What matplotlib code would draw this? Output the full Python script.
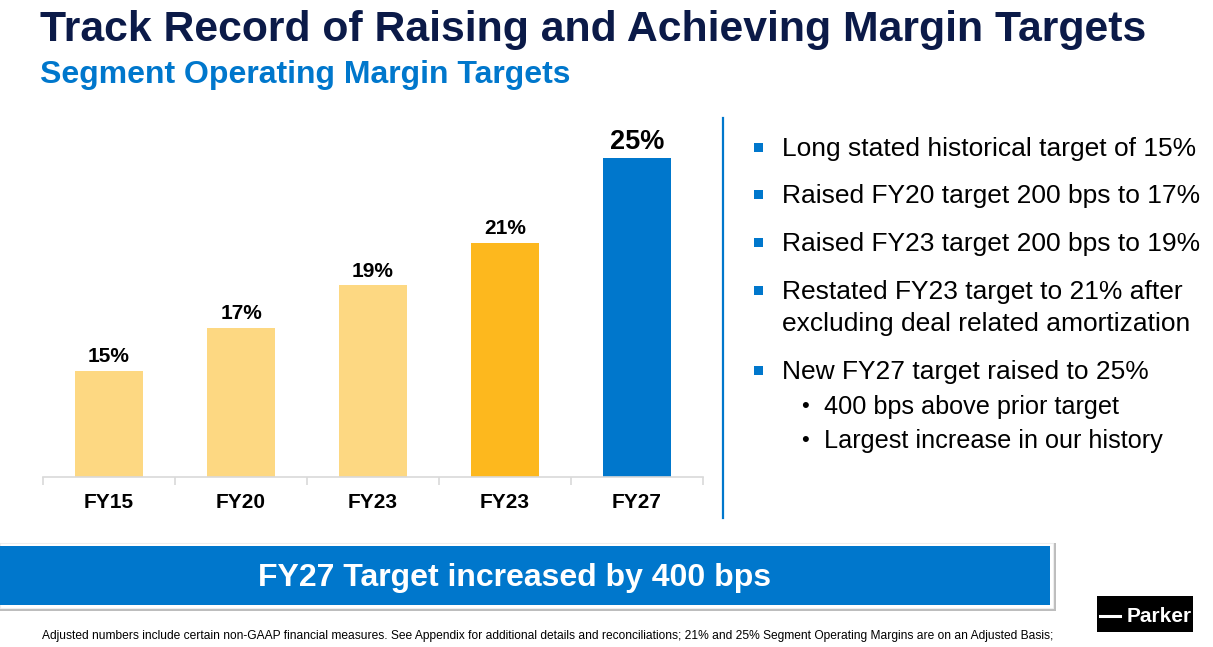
import matplotlib.pyplot as plt
from matplotlib.patches import Rectangle

W, H = 1213, 647

# chart data
categories = ["FY15", "FY20", "FY23", "FY23", "FY27"]
margins = [15, 17, 19, 21, 25]
bar_colors = ["#FDD882", "#FDD882", "#FDD882", "#FDB81E", "#0077CC"]

bullets = [
    ["Long stated historical target of 15%"],
    ["Raised FY20 target 200 bps to 17%"],
    ["Raised FY23 target 200 bps to 19%"],
    ["Restated FY23 target to 21% after", "excluding deal related amortization"],
    ["New FY27 target raised to 25%"],
]
sub_bullets = ["400 bps above prior target", "Largest increase in our history"]

navy = "#0B1A48"
blue = "#0077CC"

plt.rcParams["font.family"] = ["Liberation Sans", "DejaVu Sans"]

fig = plt.figure(figsize=(W / 100, H / 100), dpi=100)


def fx(px):
    return px / W


def fy(py):
    return 1 - py / H


# titles
fig.text(fx(40), fy(30), "Track Record of Raising and Achieving Margin Targets",
         fontsize=30.8, fontweight="bold", color=navy, va="center", ha="left")
fig.text(fx(40), fy(75), "Segment Operating Margin Targets",
         fontsize=23, fontweight="bold", color=blue, va="center", ha="left")

# bar chart
ax = fig.add_axes([fx(43), fy(477), fx(703) - fx(43), fy(118) - fy(477)])
x = range(len(categories))
ax.bar(x, [m - 10 for m in margins], bottom=10, width=0.51, color=bar_colors)
ax.set_xlim(-0.5, len(categories) - 0.5)
ax.set_ylim(10, 10 + 359 / 21.3)
for i, m in enumerate(margins):
    size = 19.5 if i == len(margins) - 1 else 15
    ax.text(i, m + 0.4, f"{m}%", ha="center", va="baseline",
            fontsize=size, fontweight="bold", color="black")
for s in ["top", "right", "left"]:
    ax.spines[s].set_visible(False)
ax.spines["bottom"].set_color("#D9D9D9")
ax.spines["bottom"].set_linewidth(1.2)
ax.set_yticks([])
ax.set_xticks([i - 0.5 for i in range(len(categories) + 1)])
ax.set_xticklabels([])
ax.tick_params(axis="x", length=6, color="#D9D9D9", width=1.2)
for i, c in enumerate(categories):
    ax.text(i, -0.07, c, transform=ax.get_xaxis_transform(), ha="center",
            va="center", fontsize=15, fontweight="bold")

# divider
fig.add_artist(plt.Line2D([fx(723), fx(723)], [fy(118), fy(518)],
                          color=blue, lw=1.6))

# bullet list
bullet_y = [147, 194, 242, 290, 370]
for y, lines in zip(bullet_y, bullets):
    fig.add_artist(Rectangle((fx(754), fy(y + 5)), fx(9), 9 / H,
                             color=blue, lw=0))
    for k, t in enumerate(lines):
        fig.text(fx(782), fy(y + 2 + 32 * k), t, fontsize=19, color="black",
                 va="center", ha="left")
for y, t in zip([405, 439], sub_bullets):
    fig.text(fx(801), fy(y + 2), "\u2022", fontsize=16, va="center", ha="left")
    fig.text(fx(824), fy(y + 2), t, fontsize=18.2, va="center", ha="left")

# banner with shadow
fig.add_artist(Rectangle((fx(0), fy(611)), fx(1056), (611 - 543) / H,
                         color="#BDBDBD", lw=0))
fig.add_artist(Rectangle((fx(0), fy(608)), fx(1053), (608 - 543) / H,
                         facecolor="white", edgecolor="#EEEEEE", lw=0.8))
fig.add_artist(Rectangle((fx(0), fy(605)), fx(1050), (605 - 546) / H,
                         color=blue, lw=0))
fig.text(fx(515), fy(578), "FY27 Target increased by 400 bps", fontsize=23,
         fontweight="bold", color="white", ha="center", va="center")

# footnote
fig.text(fx(42), fy(636),
         "Adjusted numbers include certain non-GAAP financial measures. See Appendix for "
         "additional details and reconciliations; 21% and 25% Segment Operating Margins "
         "are on an Adjusted Basis;",
         fontsize=8.65, color="black", ha="left", va="center")

# logo
fig.add_artist(Rectangle((fx(1097), fy(632)), fx(96), 36 / H, color="black", lw=0))
fig.add_artist(plt.Line2D([fx(1100), fx(1120)], [fy(616), fy(616)],
                          color="white", lw=2.2))
fig.text(fx(1159), fy(616), "Parker", fontsize=15, fontweight="bold",
         color="white", ha="center", va="center")

fig.savefig("out.png", dpi=100)
